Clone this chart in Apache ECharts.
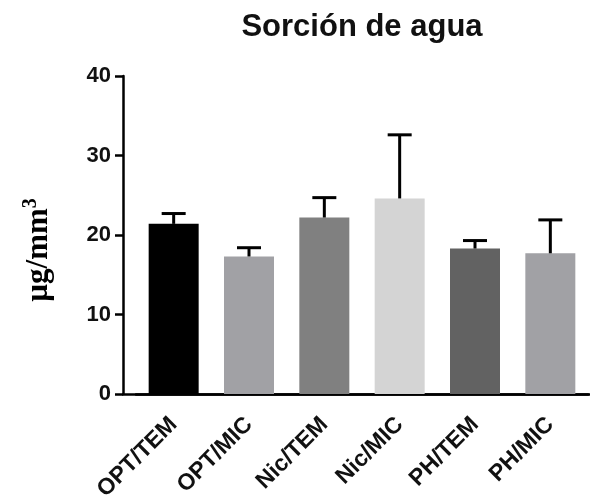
<!DOCTYPE html>
<html>
<head>
<meta charset="utf-8">
<script src="https://cdn.jsdelivr.net/npm/echarts@6/dist/echarts.min.js"></script>
<style>html,body{margin:0;padding:0;background:#fff;}#c{width:590px;height:497px;}</style>
</head>
<body>
<div id="c"></div>
<script>
var categories = ['OPT/TEM', 'OPT/MIC', 'Nic/TEM', 'Nic/MIC', 'PH/TEM', 'PH/MIC'];
var means = [21.4, 17.3, 22.2, 24.6, 18.3, 17.7];
var sd = [1.3, 1.1, 2.5, 8.0, 1.0, 4.2];
var barColors = ['#000000', '#a1a1a5', '#808080', '#d4d4d4', '#626262', '#a1a1a5'];
var yTicks = [0, 10, 20, 30, 40];

var chart = echarts.init(document.getElementById('c'), null, {renderer: 'canvas'});
var axisColor = '#000';
var option = {
  animation: false,
  backgroundColor: '#fff',
  title: {
    text: 'Sorción de agua',
    left: 357,
    textAlign: 'center',
    top: 7,
    textStyle: {fontFamily: 'Liberation Sans, Arial', fontWeight: 'bold', fontSize: 31, color: '#111'}
  },
  grid: [
    {left: 136, right: 2, top: 76, bottom: 103, containLabel: false, outerBoundsMode: 'none'},
    {left: 123, right: 0, top: 76, bottom: 103, containLabel: false, outerBoundsMode: 'none'}
  ],
  xAxis: [
    {
      type: 'category', gridIndex: 0, data: categories,
      axisLine: {lineStyle: {color: axisColor, width: 2.5}},
      axisTick: {alignWithLabel: true, length: 9, lineStyle: {color: axisColor, width: 2.5}},
      axisLabel: {rotate: 45, margin: 27, fontFamily: 'Liberation Sans, Arial', fontWeight: 'bold', fontSize: 23, color: '#111', interval: 0}
    },
    {
      type: 'category', gridIndex: 1, data: [''],
      axisLine: {lineStyle: {color: axisColor, width: 2.5}},
      axisTick: {show: false}, axisLabel: {show: false}
    }
  ],
  yAxis: [
    {
      type: 'value', gridIndex: 0, min: yTicks[0], max: yTicks[yTicks.length - 1], interval: 10,
      offset: 13,
      axisLine: {show: true, lineStyle: {color: axisColor, width: 2.5}},
      axisTick: {show: true, length: 8, lineStyle: {color: axisColor, width: 2.5}},
      splitLine: {show: false},
      axisLabel: {margin: 12, fontFamily: 'Liberation Sans, Arial', fontWeight: 'bold', fontSize: 22, color: '#111'},
      name: 'µg/mm{sup|3}',
      nameLocation: 'middle',
      nameRotate: 90,
      nameGap: 66,
      nameTextStyle: {
        fontFamily: 'Liberation Serif, Times New Roman', fontWeight: 'bold', fontSize: 31, color: '#000',
        padding: [0, 30, 0, 0],
        rich: {sup: {fontFamily: 'Liberation Serif', fontWeight: 'bold', fontSize: 20, verticalAlign: 'top', padding: [0, 0, 16, 0]}}
      }
    },
    {type: 'value', gridIndex: 1, show: false, min: 0, max: 40}
  ],
  series: [
    {
      type: 'bar', xAxisIndex: 0, yAxisIndex: 0, barWidth: 50,
      data: means.map(function (v, i) { return {value: v, itemStyle: {color: barColors[i]}}; })
    },
    {
      type: 'custom', xAxisIndex: 0, yAxisIndex: 0, z: 3,
      data: means.map(function (v, i) { return [i, v, sd[i]]; }),
      renderItem: function (params, api) {
        var x = api.value(0), m = api.value(1), s = api.value(2);
        var p0 = api.coord([x, m]);
        var p1 = api.coord([x, m + s]);
        var half = 12;
        return {type: 'group', children: [
          {type: 'line', shape: {x1: p0[0], y1: p0[1], x2: p1[0], y2: p1[1]}, style: {stroke: '#000', lineWidth: 3}},
          {type: 'line', shape: {x1: p1[0] - half, y1: p1[1], x2: p1[0] + half, y2: p1[1]}, style: {stroke: '#000', lineWidth: 3}}
        ]};
      }
    }
  ]
};
chart.setOption(option);
</script>
</body>
</html>
